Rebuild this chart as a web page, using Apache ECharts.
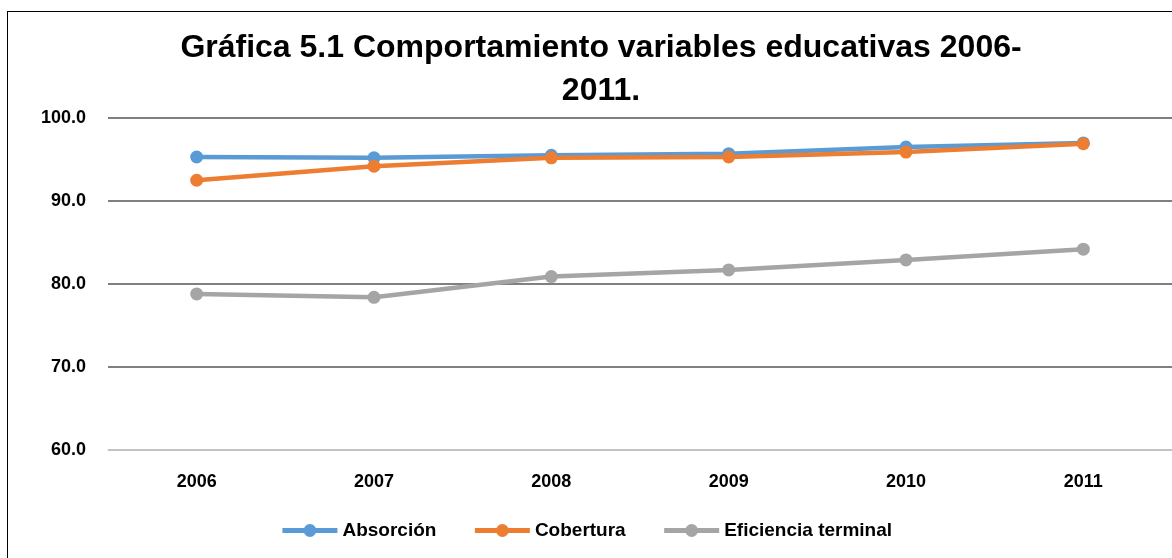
<!DOCTYPE html>
<html>
<head>
<meta charset="utf-8">
<script src="https://cdn.jsdelivr.net/npm/echarts@6/dist/echarts.min.js"></script>
<style>
  html, body { margin: 0; padding: 0; background: #fff; }
  #frame { position: absolute; left: 7px; top: 11px; width: 1180px; height: 560px; border: 1.5px solid #000; box-sizing: border-box; }
  #chart { position: absolute; left: 0; top: 0; width: 1172px; height: 558px; }
</style>
</head>
<body>
<div id="frame"></div>
<div id="chart"></div>
<script>
var years = ["2006", "2007", "2008", "2009", "2010", "2011"];
var absorcion = [95.3, 95.2, 95.5, 95.7, 96.5, 97.0];
var cobertura = [92.5, 94.2, 95.2, 95.3, 95.9, 96.9];
var eficiencia = [78.8, 78.4, 80.9, 81.7, 82.9, 84.2];

var fuente = "'Liberation Sans Narrow', 'Liberation Sans', Arial, sans-serif";

var myChart = echarts.init(document.getElementById("chart"));

function serie(nombre, datos, color) {
	return {
		name: nombre,
		type: "line",
		data: datos,
		symbol: "circle",
		symbolSize: 13,
		lineStyle: { width: 4.5, color: color },
		itemStyle: { color: color },
		animation: false
	};
}

var option = {
	title: {
		text: "Gráfica 5.1 Comportamiento variables educativas 2006-\n2011.",
		left: 596,
		textAlign: "center",
		top: 22,
		textStyle: { fontFamily: fuente, fontSize: 32, fontWeight: "bold", color: "#000", lineHeight: 43 }
	},
	legend: {
		top: 516,
		left: "center",
		itemWidth: 55,
		itemHeight: 16,
		itemGap: 36,
		lineStyle: { width: 5 },
		textStyle: { fontFamily: fuente, fontSize: 19, fontWeight: "bold", color: "#000" },
		data: ["Absorción", "Cobertura", "Eficiencia terminal"]
	},
	grid: { left: 108, right: -1, top: 118, bottom: 108 },
	xAxis: {
		type: "category",
		data: years,
		boundaryGap: true,
		axisLine: { lineStyle: { color: "#d9d9d9", width: 1.5 } },
		axisTick: { show: false },
		axisLabel: { fontFamily: fuente, fontSize: 18, fontWeight: "bold", color: "#000", margin: 23 }
	},
	yAxis: {
		type: "value",
		min: 60,
		max: 100,
		interval: 10,
		axisLine: { show: false },
		axisTick: { show: false },
		splitLine: { lineStyle: { color: "#808080", width: 2 } },
		axisLabel: {
			fontFamily: fuente, fontSize: 18, fontWeight: "bold", color: "#000", margin: 22,
			formatter: function(v) { return v.toFixed(1); }
		}
	},
	series: [
		serie("Absorción", absorcion, "#5b9bd5"),
		serie("Cobertura", cobertura, "#ed7d31"),
		serie("Eficiencia terminal", eficiencia, "#a5a5a5")
	]
};
myChart.setOption(option);
</script>
</body>
</html>
